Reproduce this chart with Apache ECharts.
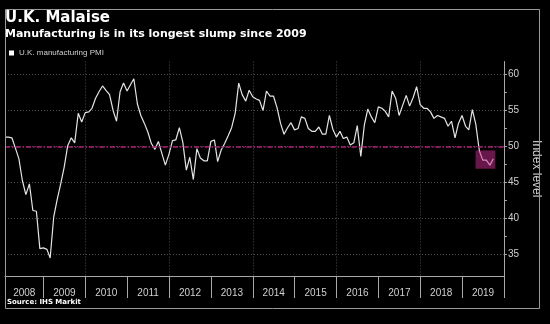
<!DOCTYPE html>
<html><head><meta charset="utf-8">
<script src="https://cdn.jsdelivr.net/npm/echarts@6/dist/echarts.min.js"></script>
<style>html,body{margin:0;padding:0;background:#000;}#c{width:550px;height:324px;}</style>
</head><body><div id="c"></div>
<script>
// ---- data: U.K. manufacturing PMI, monthly (Jan 2008 - Sep 2019) ----
const years = [2008, 2009, 2010, 2011, 2012, 2013, 2014, 2015, 2016, 2017, 2018, 2019];
const pmi2008 = [51.3, 51.3, 51.2, 49.8, 48.3, 45.3, 43.3, 44.8, 41.1, 41.0, 35.8, 35.9];
const pmi2009 = [35.7, 34.5, 40.2, 42.6, 44.8, 47.1, 50.1, 51.2, 50.5, 54.6, 53.4, 54.7];
const pmi2010 = [54.8, 55.3, 56.7, 57.6, 58.4, 57.8, 57.2, 55.0, 53.5, 57.6, 58.8, 57.7];
const pmi2011 = [58.6, 59.4, 55.9, 54.3, 53.2, 52.0, 50.4, 49.6, 50.7, 49.0, 47.4, 48.9];
const pmi2012 = [50.8, 50.9, 52.6, 50.6, 46.7, 48.5, 45.4, 49.7, 48.4, 48.0, 48.0, 50.7];
const pmi2013 = [50.9, 47.9, 49.5, 50.4, 51.5, 52.6, 54.6, 58.8, 57.2, 56.3, 57.8, 56.9];
const pmi2014 = [56.6, 56.4, 55.0, 57.7, 57.0, 57.0, 55.4, 53.2, 51.7, 52.6, 53.3, 52.3];
const pmi2015 = [52.5, 54.1, 53.9, 52.5, 52.1, 52.1, 52.7, 51.7, 51.7, 54.3, 52.4, 51.3];
const pmi2016 = [52.1, 51.1, 51.3, 50.2, 50.5, 52.9, 48.6, 53.0, 55.2, 54.1, 53.3, 55.5];
const pmi2017 = [55.3, 54.9, 54.1, 57.7, 56.7, 54.3, 55.7, 57.1, 55.6, 56.8, 58.3, 55.8];
const pmi2018 = [55.3, 55.3, 54.8, 53.9, 54.3, 54.1, 53.9, 52.8, 53.5, 51.2, 53.2, 54.3];
const pmi2019 = [52.8, 52.3, 55.1, 53.1, 49.4, 48.1, 48.1, 47.4, 48.3];
const seriesName = 'U.K. manufacturing PMI';
const yTicks = [35, 40, 45, 50, 55, 60];
const yMinorTicks = [37.5, 42.5, 47.5, 52.5, 57.5];
const gridYears = [2010, 2012, 2014, 2016, 2018];
const refLevel = 50;
const slumpBox = { from: [2019, 3, 28], to: [2019, 9, 18], top: 49.45, bottom: 46.9 };

// ---- build ----
const byYear = [pmi2008, pmi2009, pmi2010, pmi2011, pmi2012, pmi2013, pmi2014, pmi2015, pmi2016, pmi2017, pmi2018, pmi2019];
const points = [];
years.forEach((y, yi) => byYear[yi].forEach((v, mi) => {
  points.push([new Date(y, mi + 1, 0).getTime(), v]); // month-end date (ms)
}));
const xMin = points[0][0];
const xMax = new Date(years[years.length - 1] + 1, 0, 1).getTime();
const yearStarts = years.slice(1).map(y => new Date(y, 0, 1).getTime()).concat([xMax]);
const yearMids = years.map(y => {
  const a = Math.max(new Date(y, 0, 1).getTime(), xMin);
  const b = Math.min(new Date(y + 1, 0, 1).getTime(), xMax);
  return (a + b) / 2;
});
const gridStarts = gridYears.map(y => new Date(y, 0, 1).getTime());

const chart = echarts.init(document.getElementById('c'), null, { renderer: 'canvas' });
const axisGray = '#a8a8a8';
const gridColor = '#4c4c4c';
chart.setOption({
  backgroundColor: '#000',
  animation: false,
  title: [
    { text: 'U.K. Malaise', left: 5, top: 11, padding: 0,
      textStyle: { color: '#fff', fontSize: 15, fontWeight: 'bold', fontFamily: 'DejaVu Sans' } },
    { text: 'Manufacturing is in its longest slump since 2009', left: 5, top: 29, padding: 0,
      textStyle: { color: '#fff', fontSize: 11, fontWeight: 'bold', fontFamily: 'DejaVu Sans' } },
    { text: 'Source: IHS Markit', left: 7, top: 299, padding: 0,
      textStyle: { color: '#fff', fontSize: 7, fontWeight: 'bold', fontFamily: 'DejaVu Sans' } }
  ],
  legend: {
    left: 9, top: 49, padding: 0, icon: 'rect', itemWidth: 5, itemHeight: 5, itemGap: 4,
    data: [seriesName], itemStyle: { color: '#fff' },
    textStyle: { color: '#cfcfcf', fontSize: 8, fontFamily: 'Liberation Sans' }
  },
  grid: { left: 5, right: 40.5, top: 61.5, bottom: 48, containLabel: false },
  xAxis: [
    { type: 'value', min: xMin, max: xMax, position: 'bottom',
      axisLine: { show: true, lineStyle: { color: axisGray, width: 1 } },
      axisTick: { show: true, customValues: yearStarts, length: 22, lineStyle: { color: axisGray } },
      axisLabel: { customValues: yearMids, formatter: v => String(new Date(v).getFullYear()),
        color: '#d0d0d0', fontSize: 10, fontFamily: 'Liberation Sans', margin: 12, hideOverlap: false },
      splitLine: { show: false } },
    { type: 'value', min: xMin, max: xMax, position: 'bottom',
      axisLine: { show: false }, axisTick: { show: false, customValues: gridStarts },
      axisLabel: { show: false, customValues: gridStarts },
      splitLine: { show: true, lineStyle: { color: gridColor, type: [1, 2], width: 1 } } }
  ],
  yAxis: [
    { type: 'value', position: 'right', min: 32, max: 61.8,
      axisLine: { show: true, lineStyle: { color: axisGray } },
      axisTick: { show: true, customValues: yTicks, length: 3, lineStyle: { color: axisGray } },
      axisLabel: { customValues: yTicks, color: '#d0d0d0', fontSize: 10, fontFamily: 'Liberation Sans', margin: 4 },
      splitLine: { show: true, lineStyle: { color: gridColor, type: [1, 2], width: 1 } },
      name: 'Index level', nameLocation: 'middle', nameRotate: -90, nameGap: 13,
      nameTextStyle: { color: '#d0d0d0', fontSize: 12, fontFamily: 'Liberation Sans' } },
    { type: 'value', position: 'right', min: 32, max: 61.8,
      axisLine: { show: false },
      axisTick: { show: true, customValues: yMinorTicks, length: 3, lineStyle: { color: axisGray } },
      axisLabel: { show: false, customValues: yMinorTicks }, splitLine: { show: false } }
  ],
  series: [{
    name: seriesName, type: 'line', data: points, xAxisIndex: 0, yAxisIndex: 0,
    showSymbol: false, symbol: 'none', smooth: false,
    lineStyle: { color: '#e4e4e4', width: 1.2 }, itemStyle: { color: '#fff' },
    markLine: { silent: true, symbol: ['none', 'none'], label: { show: false }, z: 4,
      lineStyle: { color: '#b1207c', type: [5, 2, 1.5, 2], width: 1.5 },
      data: [{ yAxis: refLevel }] },
    markArea: { silent: true, z: 6, itemStyle: { color: 'rgba(205,45,145,0.5)' },
      data: [[
        { xAxis: new Date(...slumpBox.from).getTime(), yAxis: slumpBox.top },
        { xAxis: new Date(...slumpBox.to).getTime(), yAxis: slumpBox.bottom }
      ]] }
  }],
  graphic: [{ type: 'rect', silent: true, z: 100,
    shape: { x: 5.5, y: 9.5, width: 534, height: 299 },
    style: { fill: 'none', stroke: '#9a9a9a', lineWidth: 1 } }]
});
</script></body></html>
